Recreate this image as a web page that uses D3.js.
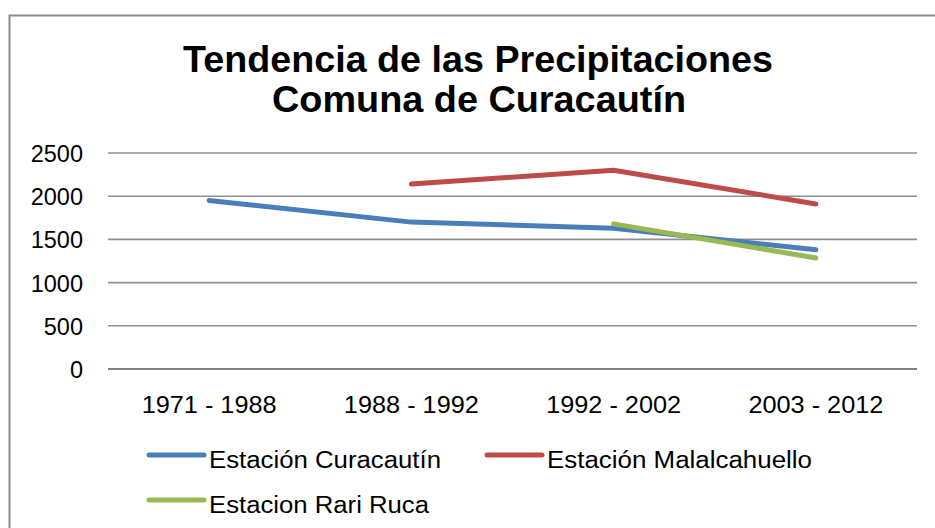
<!DOCTYPE html>
<html>
<head>
<meta charset="utf-8">
<script src="https://cdnjs.cloudflare.com/ajax/libs/d3/7.8.5/d3.min.js"></script>
<style>
  body { margin: 0; background: #fff; }
  text { font-family: "Liberation Sans", Arial, sans-serif; fill: #000; }
</style>
</head>
<body>
<svg id="chart" width="935" height="528"></svg>
<script>
const periods = ['1971 - 1988', '1988 - 1992', '1992 - 2002', '2003 - 2012'];
const curacautin = [1950, 1700, 1630, 1380];
const malalcahuello = [null, 2140, 2300, 1910];
const rariRuca = [null, null, 1680, 1285];
const yTicks = [0, 500, 1000, 1500, 2000, 2500];

const series = [
  { name: 'Estación Curacautín', values: curacautin, color: '#4a7ebb' },
  { name: 'Estación Malalcahuello', values: malalcahuello, color: '#be4b48' },
  { name: 'Estacion Rari Ruca', values: rariRuca, color: '#98b954' }
];

const svg = d3.select('#chart');

// marco del gráfico
svg.append('rect')
   .attr('x', 9.5).attr('y', 15.5)
   .attr('width', 960).attr('height', 560)
   .attr('fill', '#fff')
   .attr('stroke', '#8c8c8c')
   .attr('stroke-width', 2);

// título
const title = svg.append('text')
   .attr('text-anchor', 'middle')
   .style('font-weight', 'bold')
   .style('font-size', '37px');
title.append('tspan').attr('x', 478).attr('y', 72)
   .attr('textLength', 590).attr('lengthAdjust', 'spacingAndGlyphs')
   .text('Tendencia de las Precipitaciones');
title.append('tspan').attr('x', 479).attr('y', 112)
   .attr('textLength', 414).attr('lengthAdjust', 'spacingAndGlyphs')
   .text('Comuna de Curacautín');

const plotLeft = 108, plotRight = 917, plotTop = 153, plotBottom = 369;

const x = d3.scaleBand().domain(periods).range([plotLeft, plotRight]);
const y = d3.scaleLinear().domain([0, 2500]).range([plotBottom, plotTop]);

// líneas de la grilla
svg.append('g')
   .selectAll('line')
   .data(yTicks)
   .join('line')
   .attr('x1', plotLeft).attr('x2', plotRight)
   .attr('y1', d => y(d)).attr('y2', d => y(d))
   .attr('stroke', d => d === 0 ? '#808080' : '#8f8f8f')
   .attr('stroke-width', d => d === 0 ? 2 : 1.6);

// eje y
const gy = svg.append('g')
   .attr('transform', `translate(${plotLeft - 25},0)`)
   .call(d3.axisLeft(y).tickValues(yTicks).tickFormat(d3.format('d')).tickSize(0).tickPadding(0));
gy.select('.domain').remove();
gy.selectAll('.tick text')
   .attr('font-family', null)
   .attr('font-size', null)
   .style('font-size', '23.5px')
   .attr('dy', '0.36em');

// eje x
const gx = svg.append('g')
   .attr('transform', `translate(0,${plotBottom})`)
   .call(d3.axisBottom(x).tickSize(0).tickPadding(0));
gx.select('.domain').remove();
gx.selectAll('.tick text')
   .attr('font-family', null)
   .attr('font-size', null)
   .style('font-size', '23.5px')
   .attr('y', 44)
   .attr('dy', 0)
   .attr('textLength', 135)
   .attr('lengthAdjust', 'spacingAndGlyphs');

// series
const line = d3.line()
   .defined(d => d != null)
   .x((d, i) => x(periods[i]) + x.bandwidth() / 2)
   .y(d => y(d));

svg.append('g')
   .selectAll('path')
   .data(series)
   .join('path')
   .attr('d', d => line(d.values))
   .attr('fill', 'none')
   .attr('stroke', d => d.color)
   .attr('stroke-width', 5)
   .attr('stroke-linecap', 'round')
   .attr('stroke-linejoin', 'round');

// leyenda
const legendPos = [[147, 455], [485, 455], [147, 500]];
const legendWidths = [232, 265, 220];
const lg = svg.append('g')
   .selectAll('g')
   .data(series)
   .join('g')
   .attr('transform', (d, i) => `translate(${legendPos[i][0]},${legendPos[i][1]})`);
lg.append('line')
   .attr('x1', 2).attr('x2', 57)
   .attr('y1', 0).attr('y2', 0)
   .attr('stroke', d => d.color)
   .attr('stroke-width', 5)
   .attr('stroke-linecap', 'round');
lg.append('text')
   .attr('x', 62).attr('y', 13)
   .style('font-size', '23.5px')
   .attr('textLength', (d, i) => legendWidths[i])
   .attr('lengthAdjust', 'spacingAndGlyphs')
   .text(d => d.name);
</script>
</body>
</html>
